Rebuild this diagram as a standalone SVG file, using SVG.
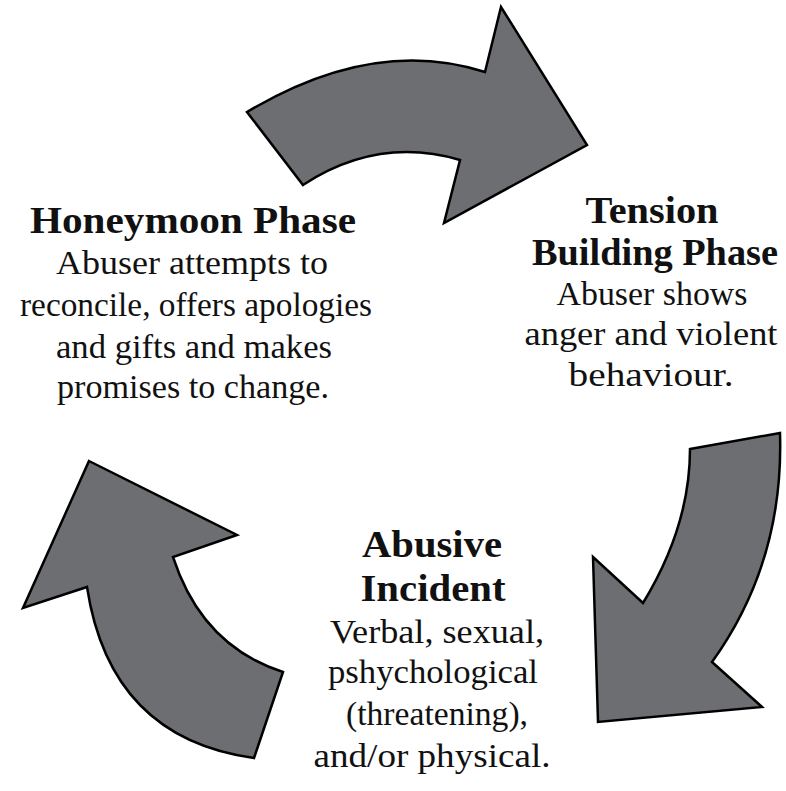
<svg xmlns="http://www.w3.org/2000/svg" width="786" height="791" viewBox="0 0 786 791">
<defs>
<style>
.arrow{fill:#6d6e71;stroke:#000;stroke-width:2.5;stroke-linejoin:miter}
.h{font-family:"Liberation Serif","Times New Roman",serif;font-size:37px;font-weight:bold}
.r{font-family:"Liberation Serif","Times New Roman",serif;font-size:34px}
</style>
</defs>
<rect width="786" height="791" fill="#fff"/>
<g id="connectors">
<path class="arrow" d="M247,112 Q374,36 485,72 L501,7 L587,145 L444,223 L460,160 Q378,136 303,185 Z"/>
<path class="arrow" d="M690,449 L780,433 Q784,562 712,662 L762,707 L598,722 L593,557 L643,603 Q690,526 690,449 Z"/>
<path class="arrow" d="M89,461 L237,535 L173,557 Q202,646 283,672 L254,758 Q110,738 87,587 L23,608 Z"/>
</g>
<g id="honeymoon" fill="#111" text-anchor="middle">
<text class="h" x="193" y="233" textLength="326" lengthAdjust="spacingAndGlyphs">Honeymoon Phase</text>
<text class="r" x="192" y="274" textLength="272" lengthAdjust="spacingAndGlyphs">Abuser attempts to</text>
<text class="r" x="196" y="316" textLength="352" lengthAdjust="spacingAndGlyphs">reconcile, offers apologies</text>
<text class="r" x="194" y="358" textLength="276" lengthAdjust="spacingAndGlyphs">and gifts and makes</text>
<text class="r" x="193" y="398" textLength="272" lengthAdjust="spacingAndGlyphs">promises to change.</text>
</g>
<g id="tension" fill="#111" text-anchor="middle">
<text class="h" x="652" y="223" textLength="133" lengthAdjust="spacingAndGlyphs">Tension</text>
<text class="h" x="655" y="265" textLength="246" lengthAdjust="spacingAndGlyphs">Building Phase</text>
<text class="r" x="652" y="305" textLength="191" lengthAdjust="spacingAndGlyphs">Abuser shows</text>
<text class="r" x="651" y="345" textLength="253" lengthAdjust="spacingAndGlyphs">anger and violent</text>
<text class="r" x="651" y="386" textLength="165" lengthAdjust="spacingAndGlyphs">behaviour.</text>
</g>
<g id="abusive" fill="#111" text-anchor="middle">
<text class="h" x="432" y="557" textLength="140" lengthAdjust="spacingAndGlyphs">Abusive</text>
<text class="h" x="433" y="601" textLength="145" lengthAdjust="spacingAndGlyphs">Incident</text>
<text class="r" x="437" y="643" textLength="214" lengthAdjust="spacingAndGlyphs">Verbal, sexual,</text>
<text class="r" x="433" y="683" textLength="210" lengthAdjust="spacingAndGlyphs">pshychological</text>
<text class="r" x="437" y="725" textLength="182" lengthAdjust="spacingAndGlyphs">(threatening),</text>
<text class="r" x="432" y="767" textLength="237" lengthAdjust="spacingAndGlyphs">and/or physical.</text>
</g>
</svg>
